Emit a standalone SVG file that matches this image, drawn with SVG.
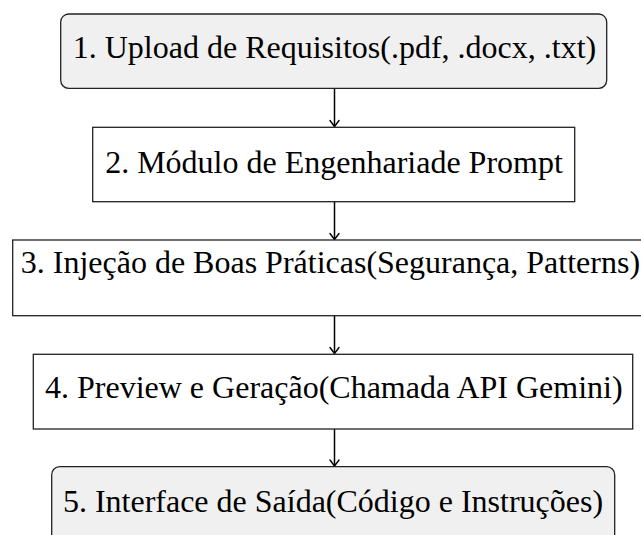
<svg xmlns="http://www.w3.org/2000/svg" width="641" height="535" viewBox="0 0 641 535">
  <style>
    .box { stroke: #222222; stroke-width: 1.3; }
    .plain { fill: #ffffff; }
    .round { fill: #f0f0f0; }
    .label { font-family: "Liberation Serif", "Times New Roman", serif; font-size: 32px; fill: #000000; text-anchor: middle; }
    .edge { stroke: #000000; stroke-width: 1.5; fill: none; marker-end: url(#tip); }
  </style>
  <defs>
    <marker id="tip" markerUnits="userSpaceOnUse" markerWidth="10" markerHeight="12" viewBox="-8 -6 10 12" refX="0" refY="0" orient="auto">
      <path d="M -6,-4.5 Q -2,-1.5 0,0 Q -2,1.5 -6,4.5" fill="none" stroke="#000000" stroke-width="1.4" stroke-linecap="round"/>
    </marker>
  </defs>
  <rect width="641" height="535" fill="#ffffff"/>
  <g id="connectors">
    <line class="edge" x1="334.5" y1="88.5" x2="334.5" y2="126.5"/>
    <line class="edge" x1="334.5" y1="202" x2="334.5" y2="239.5"/>
    <line class="edge" x1="334.5" y1="316" x2="334.5" y2="353.5"/>
    <line class="edge" x1="334.5" y1="429" x2="334.5" y2="466"/>
  </g>
  <g id="node1">
    <rect class="box round" x="60.7" y="14" width="546" height="74.3" rx="8" ry="8"/>
    <text class="label" x="334.5" y="58">1. Upload de Requisitos(.pdf, .docx, .txt)</text>
  </g>
  <g id="node2">
    <rect class="box plain" x="92.7" y="127.3" width="482" height="74.4"/>
    <text class="label" x="334" y="173">2. Módulo de Engenhariade Prompt</text>
  </g>
  <g id="node3">
    <rect class="box plain" x="12.7" y="240" width="642" height="75.7"/>
    <text class="label" x="330.4" y="273">3. Injeção de Boas Práticas(Segurança, Patterns)</text>
  </g>
  <g id="node4">
    <rect class="box plain" x="33.3" y="354.3" width="599.4" height="74.7"/>
    <text class="label" x="333.8" y="398">4. Preview e Geração(Chamada API Gemini)</text>
  </g>
  <g id="node5">
    <rect class="box round" x="51.7" y="466.7" width="563" height="75" rx="8" ry="8"/>
    <text class="label" x="333" y="511.7">5. Interface de Saída(Código e Instruções)</text>
  </g>
</svg>
